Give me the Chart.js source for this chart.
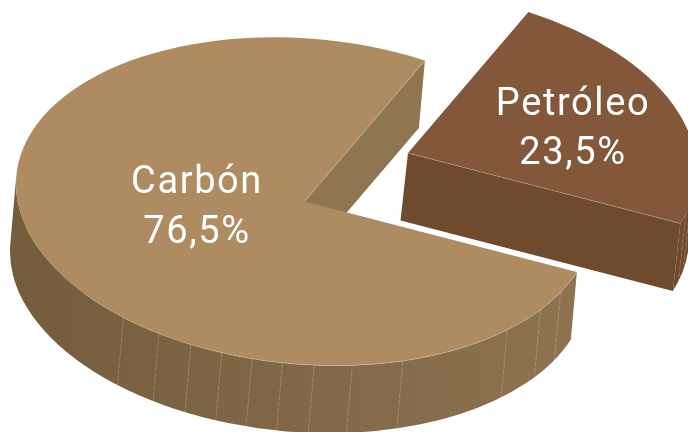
<!DOCTYPE html>
<html>
<head>
<meta charset="utf-8">
<style>
  html, body { margin: 0; padding: 0; background: #fff; }
  canvas { display: block; }
</style>
<script src="https://cdn.jsdelivr.net/npm/chart.js@4"></script>
</head>
<body>
<canvas id="myChart" width="688" height="432"></canvas>
<script>
const categories = ['Carbón', 'Petróleo'];
const values = [76.5, 23.5];

// where the thin lines fall on the side of each slice, degrees along the rim
const carbonFacets = [194.2, 185.6, 178.5, 172, 165.8, 159.7, 153.4, 145.8, 135.4, 110.7, 100.5, 92.8];
const petroleoFacets = [80.9, 77];

const topColors = ['#ae8b60', '#82573a'];
const cutColors = ['#8f7650', '#6f4a2d'];

// flat circle -> tilted ellipse
const tilt = [120.4, -141, 262.2, 84.04];
const centers = [[304.5, 201.5], [408, 153]];
const depths = [[-6, 67.5], [-7.5, 67.5]];
// part of the rim that faces the viewer, degrees
const rimRanges = [[84.6, 248.2], [68.2, 84.6]];

const labelPos = [[197, 193, 243], [573, 115, 164]];

function project(ctx, arc, i, shifted) {
    const k = 1 / arc.outerRadius;
    const a = tilt[0] * k, b = tilt[1] * k, c = tilt[2] * k, d = tilt[3] * k;
    const ex = centers[i][0] + (shifted ? depths[i][0] : 0);
    const ey = centers[i][1] + (shifted ? depths[i][1] : 0);
    ctx.setTransform(a, b, c, d, ex - a * arc.x - c * arc.y, ey - b * arc.x - d * arc.y);
}

function rad(deg) {
    return deg * Math.PI / 180;
}

function drawSlice(ctx, arc, i, facets) {
    const R = arc.outerRadius;
    const cutAngle = arc.endAngle;
    const px = a => arc.x + R * Math.cos(a);
    const py = a => arc.y + R * Math.sin(a);
    const rimFrom = rad(rimRanges[i][0]);
    const rimTo = rad(rimRanges[i][1]);

    // rim
    ctx.beginPath();
    project(ctx, arc, i, false);
    ctx.arc(arc.x, arc.y, R, rimFrom, rimTo);
    project(ctx, arc, i, true);
    ctx.arc(arc.x, arc.y, R, rimTo, rimFrom, true);
    ctx.closePath();
    ctx.setTransform(1, 0, 0, 1, 0, 0);
    if (i === 0) {
        const grad = ctx.createLinearGradient(10, 0, 575, 0);
        grad.addColorStop(0, '#745c3d');
        grad.addColorStop(1, '#8e7350');
        ctx.fillStyle = grad;
    } else {
        ctx.fillStyle = cutColors[1];
    }
    ctx.fill();

    // cut face
    ctx.beginPath();
    project(ctx, arc, i, false);
    ctx.moveTo(arc.x, arc.y);
    ctx.lineTo(px(cutAngle), py(cutAngle));
    project(ctx, arc, i, true);
    ctx.lineTo(px(cutAngle), py(cutAngle));
    ctx.lineTo(arc.x, arc.y);
    ctx.closePath();
    ctx.setTransform(1, 0, 0, 1, 0, 0);
    ctx.fillStyle = cutColors[i];
    ctx.fill();

    // thin lines on the rim
    ctx.lineWidth = 0.7;
    ctx.strokeStyle = 'rgba(255,255,255,0.32)';
    ctx.setLineDash([5, 1.5]);
    facets.forEach(f => {
        const a = rad(f);
        ctx.beginPath();
        project(ctx, arc, i, false);
        ctx.moveTo(px(a), py(a));
        project(ctx, arc, i, true);
        ctx.lineTo(px(a), py(a));
        ctx.setTransform(1, 0, 0, 1, 0, 0);
        ctx.stroke();
    });
    ctx.setLineDash([]);

    // top
    project(ctx, arc, i, false);
    arc.draw(ctx);

    // light edge on the top
    ctx.beginPath();
    project(ctx, arc, i, false);
    if (i === 0) {
        ctx.arc(arc.x, arc.y, R, rad(84.6), rad(205));
    }
    ctx.moveTo(arc.x, arc.y);
    ctx.lineTo(px(cutAngle), py(cutAngle));
    ctx.setTransform(1, 0, 0, 1, 0, 0);
    ctx.lineWidth = 0.7;
    ctx.strokeStyle = 'rgba(255,255,255,0.3)';
    ctx.stroke();
}

const piePlugin = {
    id: 'tiltedPie',
    beforeDatasetDraw() {
        return false;
    },
    afterDatasetsDraw(chart) {
        const ctx = chart.ctx;
        const arcs = chart.getDatasetMeta(0).data;
        ctx.save();
        drawSlice(ctx, arcs[0], 0, carbonFacets);
        drawSlice(ctx, arcs[1], 1, petroleoFacets);
        ctx.setTransform(1, 0, 0, 1, 0, 0);

        ctx.fillStyle = '#fff';
        ctx.font = '400 38px "Roboto"';
        ctx.textAlign = 'center';
        ctx.textBaseline = 'alphabetic';
        ctx.letterSpacing = '1.6px';
        categories.forEach((name, i) => {
            const p = labelPos[i];
            ctx.fillText(name, p[0], p[1]);
            ctx.fillText(String(values[i]).replace('.', ',') + '%', p[0], p[2]);
        });
        ctx.restore();
    }
};

const myChart = new Chart('myChart', {
    type: 'pie',
    data: {
        labels: categories,
        datasets: [{
            data: values,
            backgroundColor: topColors,
            borderWidth: 0
        }]
    },
    options: {
        responsive: false,
        animation: false,
        rotation: 174.6,
        plugins: {
            legend: { display: false },
            tooltip: { enabled: false }
        }
    },
    plugins: [piePlugin]
});
</script>
</body>
</html>
